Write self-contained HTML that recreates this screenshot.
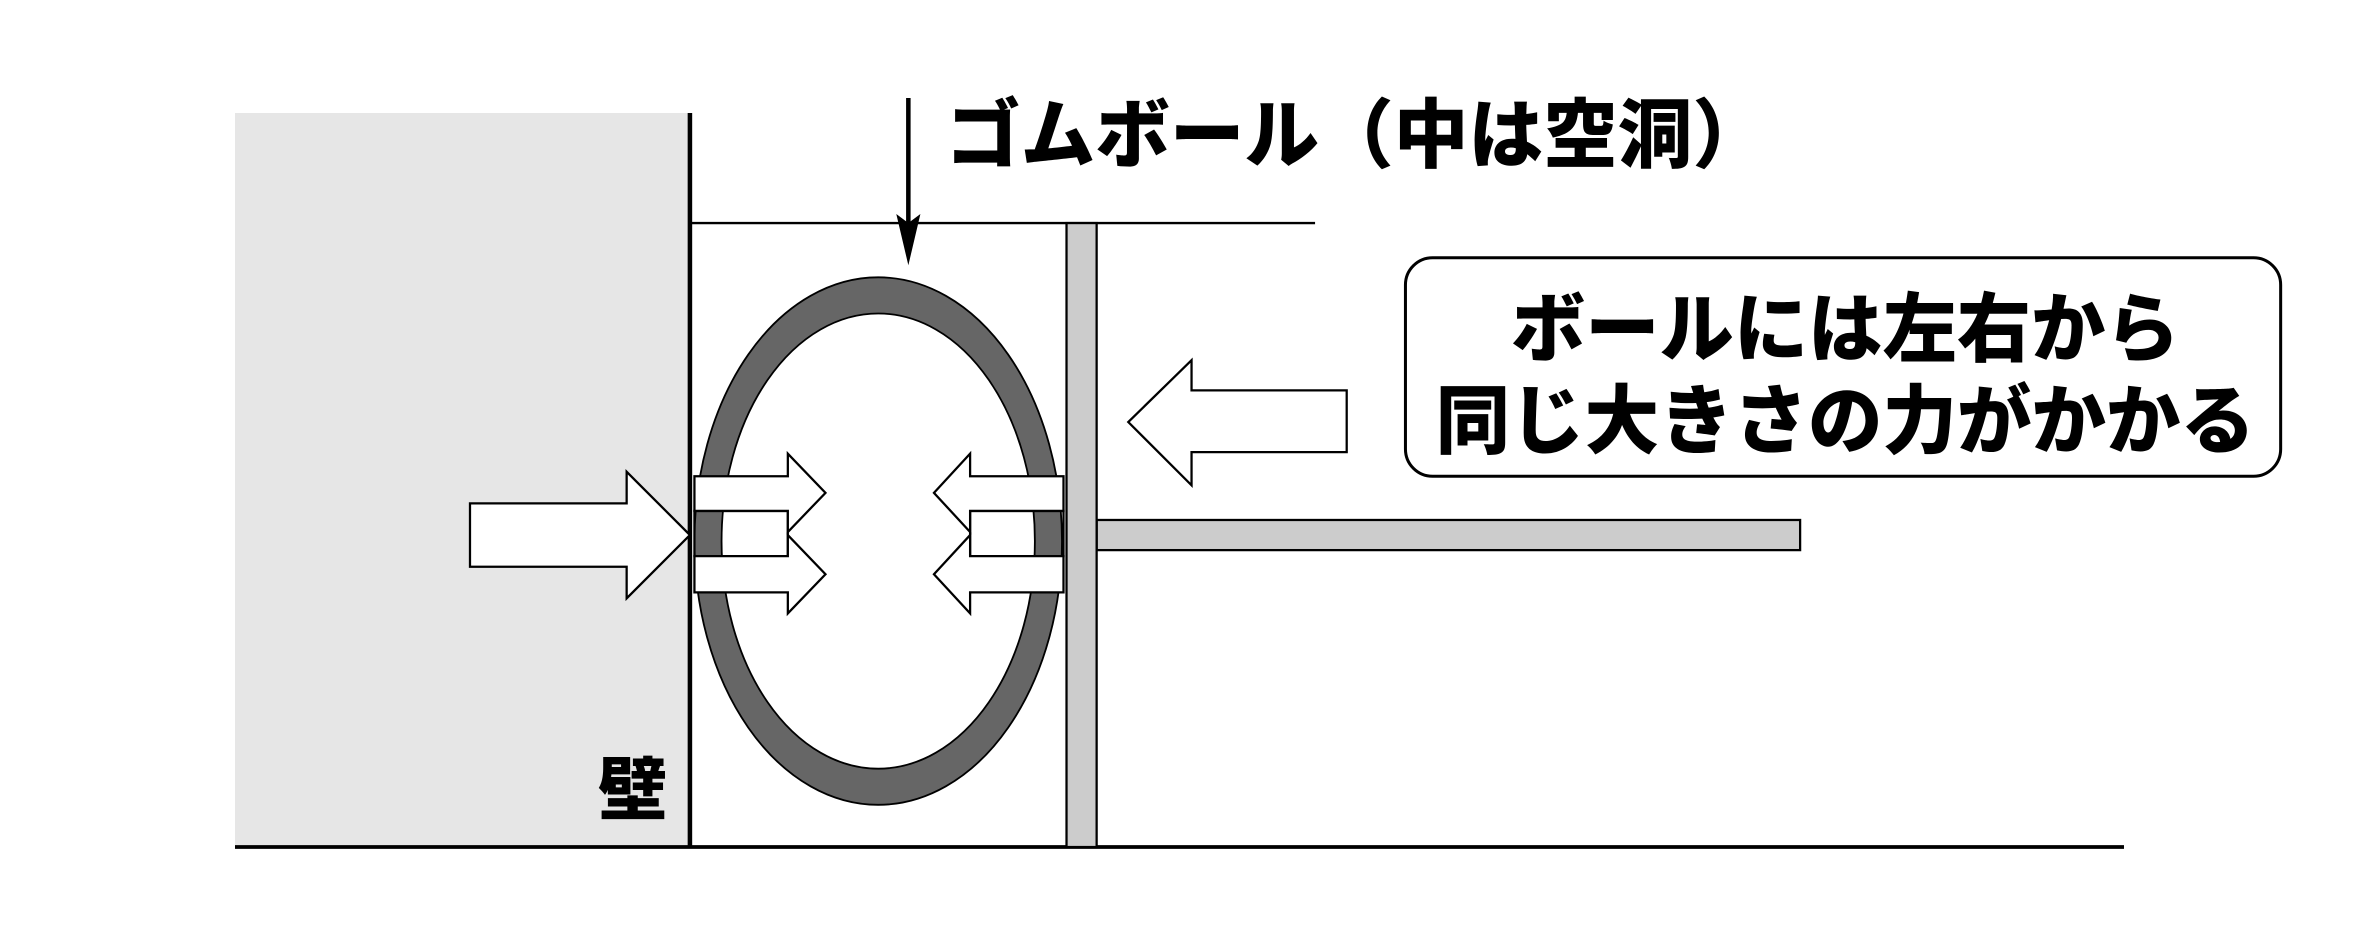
<!DOCTYPE html>
<html><head><meta charset="utf-8"><style>
html,body{margin:0;padding:0;background:#fff;}
svg{display:block;}
text{font-family:"Liberation Sans","Noto Sans CJK JP",sans-serif;font-weight:900;fill:#000;}
</style></head><body>
<svg width="2362" height="945" viewBox="0 0 1568 627" preserveAspectRatio="none" xmlns="http://www.w3.org/2000/svg">
<rect x="156" y="75" width="302" height="488" fill="#e6e6e6"/>
<line x1="458" y1="148" x2="873" y2="148" stroke="#000" stroke-width="1.5"/>
<line x1="458" y1="75" x2="458" y2="563" stroke="#000" stroke-width="3"/>
<line x1="156" y1="562" x2="1410" y2="562" stroke="#000" stroke-width="2.5"/>
<rect x="728" y="345" width="467" height="20" fill="#ccc" stroke="#000" stroke-width="1.5"/>
<rect x="708" y="148" width="20" height="414" fill="#ccc" stroke="#000" stroke-width="1.5"/>
<path fill="#666" fill-rule="evenodd" stroke="#000" stroke-width="1.2" d="M461,359 a122,175 0 1,0 244,0 a122,175 0 1,0 -244,0 Z M479,359 a104,151 0 1,0 208,0 a104,151 0 1,0 -208,0 Z"/>
<line x1="603" y1="65" x2="603" y2="155" stroke="#000" stroke-width="3"/>
<polygon points="595,142 603,148 611,142 603,176" fill="#000"/>
<text x="628" y="107" font-size="50" textLength="545" lengthAdjust="spacingAndGlyphs">ゴムボール（中は空洞）</text>
<polygon points="312,334 416,334 416,313 458,355 416,397 416,376 312,376" fill="#fff" stroke="#000" stroke-width="1.5"/>
<rect x="461" y="339" width="62" height="30" fill="none" stroke="#000" stroke-width="1.5"/>
<rect x="644" y="339" width="62" height="30" fill="none" stroke="#000" stroke-width="1.5"/>
<polygon points="461,316 523,316 523,301 548,327 523,353 523,339 461,339" fill="#fff" stroke="#000" stroke-width="1.5"/>
<polygon points="461,369 523,369 523,355 548,381 523,407 523,393 461,393" fill="#fff" stroke="#000" stroke-width="1.5"/>
<polygon points="706,316 644,316 644,301 620,327 644,353 644,339 706,339" fill="#fff" stroke="#000" stroke-width="1.5"/>
<polygon points="706,369 644,369 644,355 620,381 644,407 644,393 706,393" fill="#fff" stroke="#000" stroke-width="1.5"/>
<polygon points="894,259 791,259 791,239 749,280 791,322 791,300 894,300" fill="#fff" stroke="#000" stroke-width="1.5"/>
<rect x="933" y="171" width="581" height="145" rx="18" fill="#fff" stroke="#000" stroke-width="2"/>
<text x="1003" y="236" font-size="50" textLength="444" lengthAdjust="spacingAndGlyphs">ボールには左右から</text>
<text x="953" y="297" font-size="50" textLength="544" lengthAdjust="spacingAndGlyphs">同じ大きさの力がかかる</text>
<text x="397" y="540" font-size="46">壁</text>
</svg>
</body></html>
